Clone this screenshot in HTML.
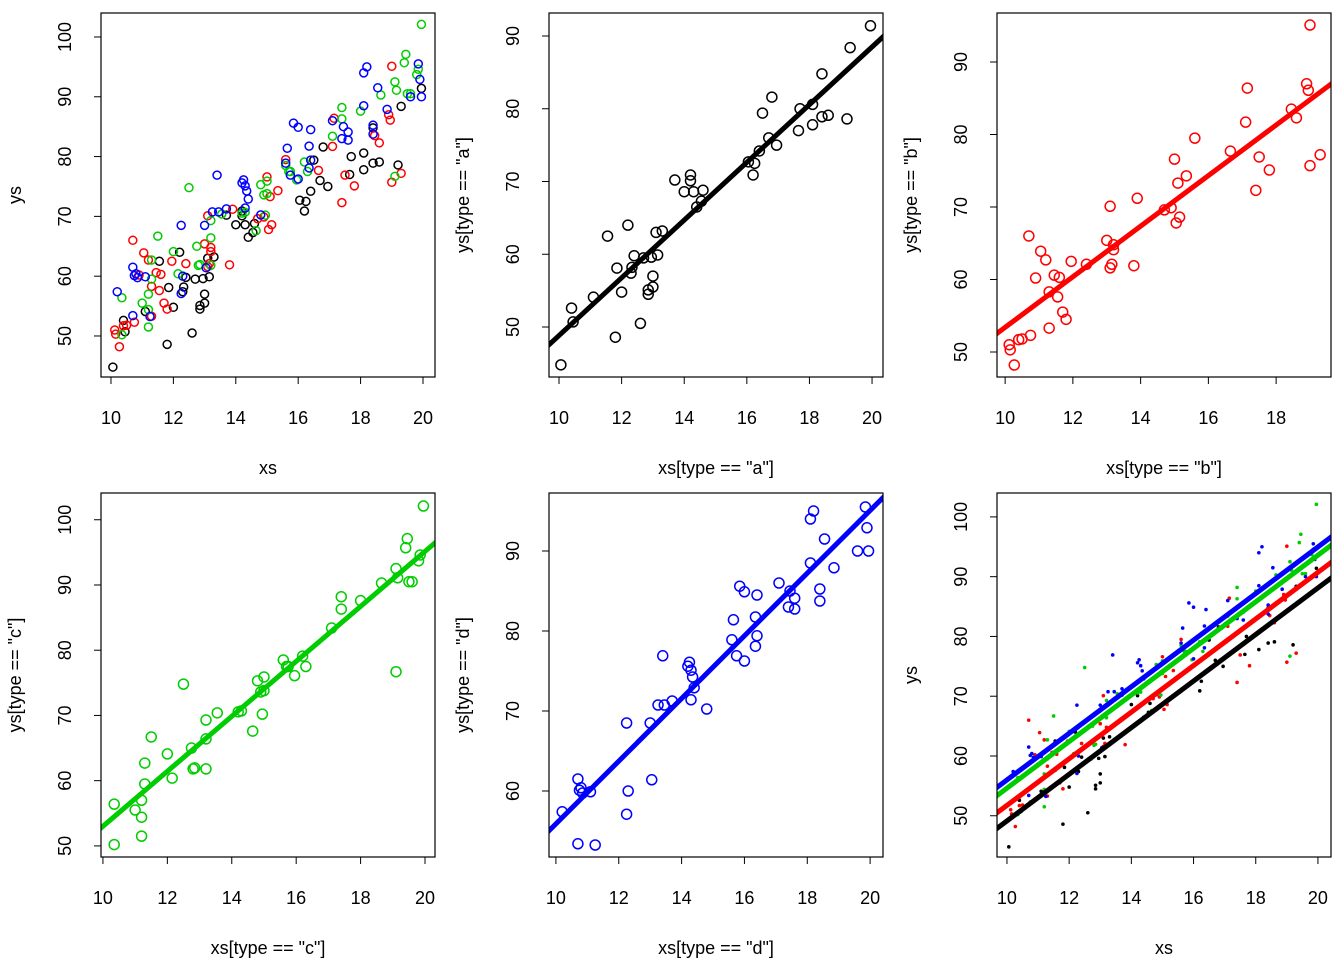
<!DOCTYPE html>
<html><head><meta charset="utf-8"><style>
body{margin:0;background:#fff}
svg text{font-family:"Liberation Sans",Arial,sans-serif;font-size:18px;fill:#000}
</style></head><body>
<svg id="s" width="1344" height="960" xmlns="http://www.w3.org/2000/svg"></svg>
<script>
const ax=[10.06,10.4,10.45,11.1,11.55,11.8,11.85,12.0,12.2,12.3,12.33,12.4,12.6,12.7,12.85,12.85,12.95,13.0,13.0,13.1,13.15,13.3,13.7,14.0,14.2,14.2,14.3,14.4,14.55,14.6,16.05,16.2,16.25,16.4,16.5,16.7,16.8,16.95,17.65,17.7,18.1,18.1,18.4,18.4,18.6,19.2,19.3,19.95];
const ay=[44.8,52.6,50.7,54.1,62.5,48.6,58.1,54.8,64.0,57.4,58.2,59.8,50.5,59.5,55.1,54.5,59.6,57.0,55.5,63.0,59.9,63.2,70.2,68.6,70.1,70.9,68.6,66.5,67.3,68.8,72.7,70.9,72.5,74.2,79.4,76.0,81.6,75.0,77.0,80.0,80.6,77.8,78.9,84.8,79.1,78.6,88.4,91.4];
const bx=[10.12,10.15,10.27,10.4,10.5,10.7,10.75,10.9,11.05,11.2,11.3,11.3,11.45,11.55,11.6,11.7,11.8,11.95,12.4,13.0,13.1,13.1,13.15,13.2,13.2,13.8,13.9,14.7,14.9,15.0,15.05,15.1,15.15,15.35,15.6,16.65,17.1,17.15,17.4,17.5,17.8,18.45,18.6,18.9,18.95,19.0,19.0,19.3];
const by=[51.0,50.3,48.2,51.7,51.8,66.0,52.3,60.2,63.9,62.7,58.3,53.3,60.6,57.6,60.3,55.5,54.5,62.5,62.1,65.4,70.1,61.6,62.1,64.1,64.8,61.9,71.2,69.6,69.9,76.6,67.8,73.3,68.6,74.3,79.5,77.7,81.7,86.4,72.3,76.9,75.1,83.5,82.3,87.0,86.1,75.7,95.1,77.2];
const cx=[10.35,10.35,11.0,11.2,11.2,11.2,11.3,11.3,11.5,12.0,12.15,12.5,12.75,12.8,12.85,13.2,13.2,13.2,13.55,14.2,14.3,14.65,14.8,14.9,14.95,15.0,15.0,15.6,15.7,15.75,15.95,16.2,16.3,17.1,17.4,17.4,18.0,18.65,19.1,19.1,19.15,19.4,19.45,19.5,19.6,19.8,19.85,19.95];
const cy=[56.4,50.2,55.5,57.0,51.5,54.4,62.7,59.5,66.7,64.1,60.4,74.8,65.0,61.8,61.96,66.4,61.8,69.3,70.4,70.55,70.7,67.6,75.3,73.6,70.2,75.9,73.8,78.5,77.5,77.5,76.1,79.1,77.5,83.4,86.3,88.2,87.6,90.3,76.7,92.5,91.1,95.7,97.1,90.5,90.5,93.7,94.6,102.1];
const dx=[10.2,10.7,10.7,10.75,10.8,10.85,11.1,11.25,12.25,12.25,12.3,13.0,13.05,13.25,13.4,13.45,13.7,14.2,14.25,14.3,14.3,14.35,14.4,14.8,15.6,15.65,15.75,15.85,16.0,16.0,16.35,16.35,16.4,16.4,17.1,17.4,17.45,17.6,17.6,18.1,18.1,18.2,18.4,18.4,18.55,18.85,19.6,19.85,19.9,19.95];
const dy=[57.4,53.4,61.5,60.1,60.4,59.75,59.9,53.25,68.5,57.1,60.0,68.5,61.4,70.75,76.9,70.75,71.25,75.6,76.1,75.1,71.4,74.25,72.9,70.25,78.9,81.4,76.9,85.6,84.9,76.25,78.1,81.75,84.5,79.4,86.0,83.0,85.0,84.1,82.75,94.0,88.5,95.0,83.75,85.25,91.5,87.9,90.0,95.5,92.9,90.0];
const xTicks1=[10,12,14,16,18,20], xTicks3=[10,12,14,16,18];
const yTicks1=[50,60,70,80,90,100], yTicks2=[50,60,70,80,90], yTicks5=[60,70,80,90];
const groups=[{x:ax,y:ay,c:'#000'},{x:bx,y:by,c:'#ff0000'},{x:cx,y:cy,c:'#00cd00'},{x:dx,y:dy,c:'#0000ff'}];
const S=document.getElementById('s'),NS='http://www.w3.org/2000/svg';
function mk(t,a,p){const e=document.createElementNS(NS,t);for(const k in a)e.setAttribute(k,a[k]);(p||S).appendChild(e);return e;}
function fit(x,y){const n=x.length;let mx=0,my=0;for(let i=0;i<n;i++){mx+=x[i];my+=y[i];}mx/=n;my/=n;let sxy=0,sxx=0;for(let i=0;i<n;i++){sxy+=(x[i]-mx)*(y[i]-my);sxx+=(x[i]-mx)**2;}return {mx,my,sxy,sxx};}
let pid=0;
function panel(o){
 pid++;
 const L=o.L,T=o.T,W=334,H=364;
 const g=mk('g',{});
 
 
 const X=v=>L+(v-o.xd[0])/(o.xd[1]-o.xd[0])*W, Y=v=>T+H-(v-o.yd[0])/(o.yd[1]-o.yd[0])*H;
 const cp=mk('clipPath',{id:'c'+pid},g);mk('rect',{x:L,y:T,width:W,height:H},cp);
 const pg=mk('g',{'clip-path':'url(#c'+pid+')'},g);
 o.series.forEach(s=>{for(let i=0;i<s.x.length;i++){
   const c=mk('circle',{cx:X(s.x[i]),cy:Y(s.y[i]),r:o.dot?1.8:o.r,fill:o.dot?s.c:'none',stroke:s.c,'stroke-width':o.dot?0:1.5},pg);
   
   }});
 (o.lines||[]).forEach(l=>{const x0=o.xd[0]-1,x1=o.xd[1]+1;
   const e=mk('line',{x1:X(x0),y1:Y(l.a+l.b*x0),x2:X(x1),y2:Y(l.a+l.b*x1),stroke:l.c,'stroke-width':5},pg);
   
   });
 const bx=mk('rect',{x:L,y:T,width:W,height:H,fill:'none',stroke:'#000','stroke-width':1.2},g);
 
 
 o.xt.forEach(v=>{mk('line',{x1:X(v),x2:X(v),y1:T+H,y2:T+H+7,stroke:'#000'},g);
   const t=mk('text',{x:X(v),y:T+H+47,'text-anchor':'middle'},g);t.textContent=v;
   
   });
 o.yt.forEach(v=>{mk('line',{x1:L-7,x2:L,y1:Y(v),y2:Y(v),stroke:'#000'},g);
   const t=mk('text',{x:0,y:0,'text-anchor':'middle',transform:`translate(${L-30},${Y(v)}) rotate(-90)`},g);t.textContent=v;
   
   });
 const xt=mk('text',{x:L+W/2,y:T+H+97,'text-anchor':'middle'},g);xt.textContent=o.xl;
 
 
 const yt=mk('text',{x:0,y:0,'text-anchor':'middle',transform:`translate(${L-80},${T+H/2}) rotate(-90)`},g);yt.textContent=o.yl;
 
 
}
function ln(s){const f=fit(s.x,s.y);const b=f.sxy/f.sxx;return {a:f.my-b*f.mx,b,c:s.c};}
panel({name:'panel-all',L:101,T:13,xd:[9.68,20.385],yd:[43.14,104.01],series:groups,r:4,xt:xTicks1,yt:yTicks1,xl:'xs',yl:'ys'});
panel({name:'panel-a',L:549,T:13,xd:[9.68,20.35],yd:[43.13,93.16],series:[groups[0]],r:5,lines:[ln(groups[0])],xt:xTicks1,yt:yTicks2,xl:'xs[type == "a"]',yl:'ys[type == "a"]'});
panel({name:'panel-b',L:997,T:13,xd:[9.76,19.62],yd:[46.55,96.76],series:[groups[1]],r:5,lines:[ln(groups[1])],xt:xTicks3,yt:yTicks2,xl:'xs[type == "b"]',yl:'ys[type == "b"]'});
panel({name:'panel-c',L:101,T:493,xd:[9.94,20.31],yd:[48.3,104.1],series:[groups[2]],r:5,lines:[ln(groups[2])],xt:xTicks1,yt:yTicks1,xl:'xs[type == "c"]',yl:'ys[type == "c"]'});
panel({name:'panel-d',L:549,T:493,xd:[9.78,20.41],yd:[51.75,97.25],series:[groups[3]],r:5,lines:[ln(groups[3])],xt:xTicks1,yt:yTicks5,xl:'xs[type == "d"]',yl:'ys[type == "d"]'});
let SXY=0,SXX=0;const fs=groups.map(s=>{const f=fit(s.x,s.y);SXY+=f.sxy;SXX+=f.sxx;return f;});
const B=SXY/SXX;
const pl=groups.map((s,i)=>({a:fs[i].my-B*fs[i].mx,b:B,c:s.c}));
panel({name:'panel-parallel-fit',L:997,T:493,xd:[9.68,20.42],yd:[43.1,104.0],series:groups,dot:true,lines:pl,xt:xTicks1,yt:yTicks1,xl:'xs',yl:'ys'});
</script>
</body></html>
